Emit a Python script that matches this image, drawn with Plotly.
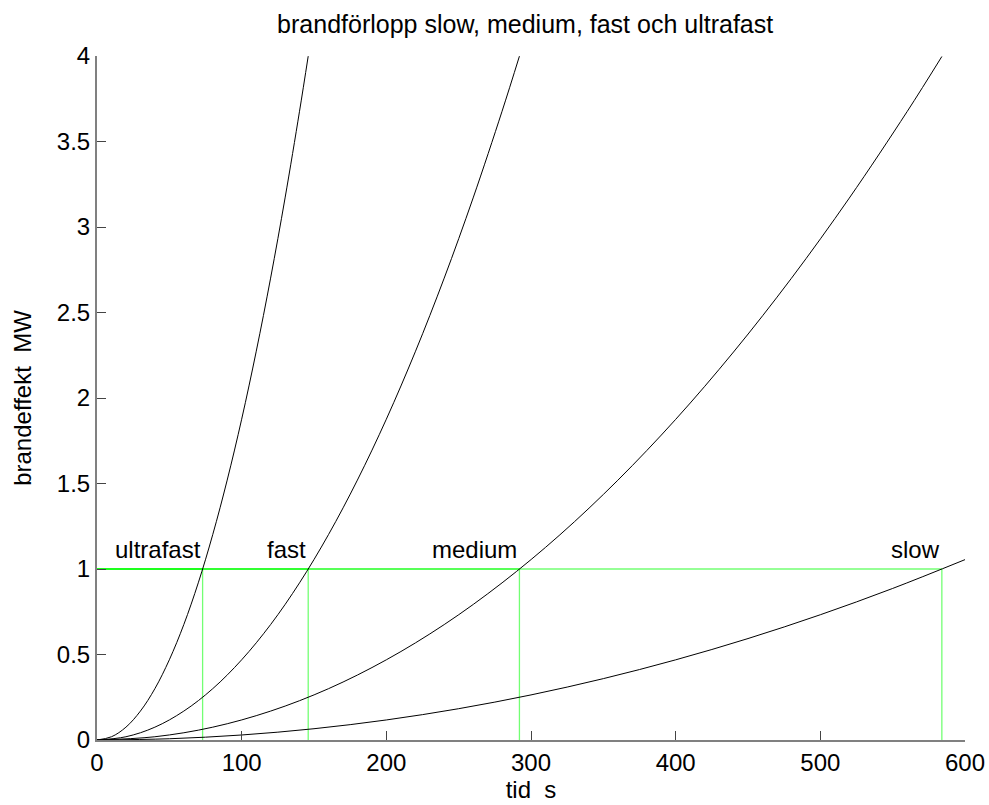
import plotly.graph_objects as go

# Heat release (MW)
t_ultrafast = [0, 10, 20, 30, 40, 50, 60, 70, 80, 90, 100, 110, 120, 130, 140, 146]
q_ultrafast = [0, 0.019, 0.075, 0.169, 0.300, 0.469, 0.675, 0.919, 1.201, 1.520, 1.876, 2.270, 2.701, 3.170, 3.677, 3.999]

t_fast = [0, 20, 40, 60, 80, 100, 120, 140, 160, 180, 200, 220, 240, 260, 280, 292]
q_fast = [0, 0.019, 0.075, 0.169, 0.300, 0.469, 0.675, 0.919, 1.201, 1.520, 1.876, 2.270, 2.701, 3.170, 3.677, 3.999]

t_medium = [0, 40, 80, 120, 160, 200, 240, 280, 320, 360, 400, 440, 480, 520, 560, 584]
q_medium = [0, 0.019, 0.075, 0.169, 0.300, 0.469, 0.675, 0.919, 1.200, 1.519, 1.875, 2.269, 2.700, 3.169, 3.675, 3.997]

t_slow = [0, 50, 100, 150, 200, 250, 300, 350, 400, 450, 500, 550, 600]
q_slow = [0, 0.0073, 0.0293, 0.0659, 0.1172, 0.1831, 0.2637, 0.3589, 0.4688, 0.5933, 0.7325, 0.8863, 1.0548]

# Time at which each growth class reaches the 1 MW reference level
labels = ["ultrafast", "fast", "medium", "slow"]
t_one_mw = [73, 146, 292, 584]
level_mw = 1.0

x_ticks = [0, 100, 200, 300, 400, 500, 600]
y_ticks = [0, 0.5, 1, 1.5, 2, 2.5, 3, 3.5, 4]
y_tick_text = ["0", "0.5", "1", "1.5", "2", "2.5", "3", "3.5", "4"]

FONT = "Liberation Sans, Arial, sans-serif"

fig = go.Figure()

# Green guide lines: horizontal at 1 MW and vertical drop to the time axis
for tc in t_one_mw:
    fig.add_trace(go.Scatter(
        x=[0, tc, tc], y=[level_mw, level_mw, 0],
        mode="lines", line=dict(color="rgba(0,255,0,0.55)", width=1.3),
        hoverinfo="skip", showlegend=False,
    ))

for tx, qy in [(t_ultrafast, q_ultrafast), (t_fast, q_fast),
               (t_medium, q_medium), (t_slow, q_slow)]:
    fig.add_trace(go.Scatter(
        x=tx, y=qy, mode="lines",
        line=dict(color="black", width=1, shape="spline"),
        showlegend=False,
    ))

for name, tc in zip(labels, t_one_mw):
    fig.add_annotation(
        x=tc, y=level_mw, text=name, showarrow=False,
        xanchor="right", yanchor="bottom", xshift=0, yshift=4,
        font=dict(family=FONT, size=24, color="black"),
    )

fig.update_layout(
    width=989, height=805,
    margin=dict(l=97, r=24, t=56, b=65, autoexpand=False),
    paper_bgcolor="white", plot_bgcolor="white",
    font=dict(family=FONT, size=24, color="black"),
    title=dict(
        text="brandförlopp slow, medium, fast och ultrafast",
        x=0.531, xref="container", xanchor="center",
        y=1 - 24 / 805, yref="container", yanchor="middle",
        font=dict(family=FONT, size=25, color="black"),
    ),
    showlegend=False,
)

fig.update_xaxes(
    range=[0, 600], tickvals=x_ticks, ticks="inside", ticklen=9,
    tickcolor="#444", tickwidth=1,
    showline=True, linecolor="#808080", linewidth=2,
    showgrid=False, zeroline=False, automargin=False,
    title=dict(text="tid\u00a0 s", font=dict(family=FONT, size=24), standoff=6),
    tickfont=dict(family=FONT, size=24),
)
fig.update_yaxes(
    range=[0, 4], tickvals=y_ticks, ticktext=y_tick_text, ticks="inside", ticklen=9,
    tickcolor="#444", tickwidth=1,
    showline=True, linecolor="#808080", linewidth=2,
    showgrid=False, zeroline=False, automargin=False,
    title=dict(text="brandeffekt\u00a0 MW", font=dict(family=FONT, size=24), standoff=18),
    tickfont=dict(family=FONT, size=24),
)

fig.write_html("out.html")
